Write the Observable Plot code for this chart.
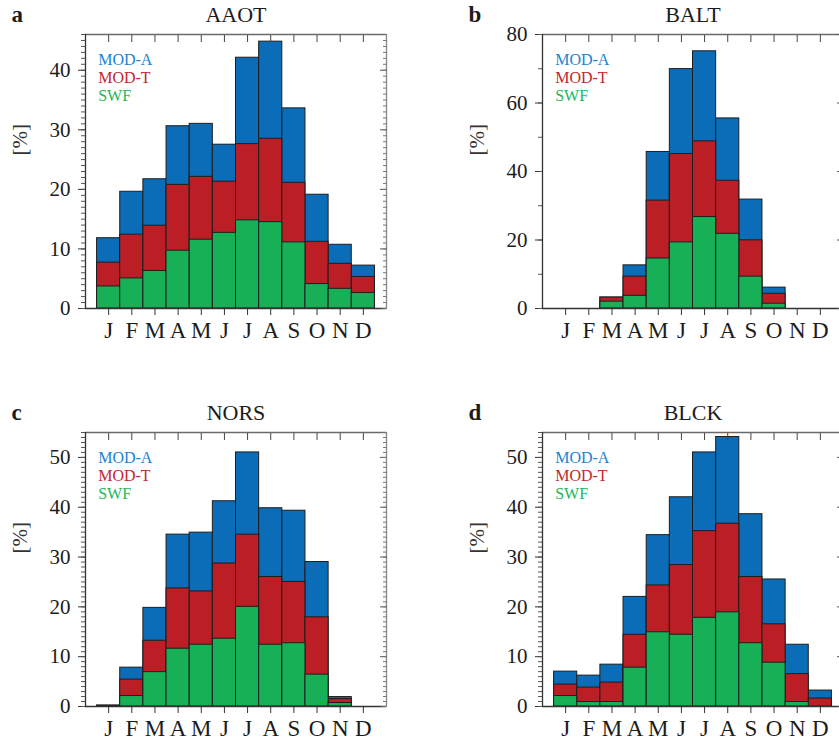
<!DOCTYPE html>
<html>
<head>
<meta charset="utf-8">
<script src="https://cdn.jsdelivr.net/npm/d3@7"></script>
<script src="https://cdn.jsdelivr.net/npm/@observablehq/plot@0.6"></script>
<style>
  html, body { margin: 0; padding: 0; background: #fff; }
  #wrap { position: relative; width: 839px; height: 744px; overflow: hidden; background: #fff; }
  .panel { position: absolute; }
  .panel g[aria-label="x-axis tick label"] { font-size: 23px !important; }
  .panel g[aria-label="y-axis tick label"] { font-size: 21px !important; }
</style>
</head>
<body>
<div id="wrap"></div>
<script>
// ---- data ----
const months = ["J","F","M","A","M","J","J","A","S","O","N","D"];
const series = ["MOD-A","MOD-T","SWF"];

const aaotModA = [11.8, 19.6, 21.7, 30.6, 31.0, 27.5, 42.1, 44.8, 33.6, 19.1, 10.7, 7.2];
const aaotModT = [7.7, 12.4, 13.9, 20.75, 22.1, 21.3, 27.6, 28.5, 21.1, 11.2, 7.5, 5.3];
const aaotSwf  = [3.7, 5.05, 6.3, 9.7, 11.55, 12.7, 14.8, 14.5, 11.1, 4.1, 3.3, 2.6];

const baltModA = [0, 0, 3.2, 12.6, 45.7, 69.9, 75.1, 55.5, 31.8, 6.1, 0, 0];
const baltModT = [0, 0, 3.2, 9.3, 31.5, 45.1, 48.8, 37.3, 19.9, 4.3, 0, 0];
const baltSwf  = [0, 0, 2.0, 3.7, 14.6, 19.3, 26.7, 21.8, 9.3, 1.4, 0, 0];

const norsModA = [0.2, 7.8, 19.8, 34.5, 34.9, 41.2, 51.0, 39.8, 39.3, 29.0, 1.9, 0];
const norsModT = [0.15, 5.4, 13.2, 23.7, 23.1, 28.7, 34.5, 26.0, 25.0, 17.9, 1.5, 0];
const norsSwf  = [0.1, 2.1, 6.9, 11.6, 12.4, 13.6, 20.0, 12.4, 12.7, 6.4, 0.7, 0];

const blckModA = [7.0, 6.2, 8.4, 22.0, 34.4, 42.0, 51.0, 54.1, 38.6, 25.5, 12.4, 3.2];
const blckModT = [4.4, 3.8, 4.8, 14.4, 24.3, 28.4, 35.2, 36.7, 26.0, 16.5, 6.5, 1.6];
const blckSwf  = [2.1, 0.9, 0.9, 7.8, 14.9, 14.4, 17.8, 18.9, 12.7, 8.8, 0.9, 0];

const panels = [
  {letter: "a", name: "AAOT", ymax: 46, major: [0,10,20,30,40], minorStep: 1, data: [aaotModA, aaotModT, aaotSwf]},
  {letter: "b", name: "BALT", ymax: 80, major: [0,20,40,60,80], minorStep: 10, data: [baltModA, baltModT, baltSwf]},
  {letter: "c", name: "NORS", ymax: 55, major: [0,10,20,30,40,50], minorStep: 1, data: [norsModA, norsModT, norsSwf]},
  {letter: "d", name: "BLCK", ymax: 55, major: [0,10,20,30,40,50], minorStep: 1, data: [blckModA, blckModT, blckSwf]}
];

const barColors = ["#0b6db7", "#bb1e24", "#17b057"];
const textColors = ["#1a84d0", "#c3262d", "#22b65a"];

// ---- layout ----
const W = 400, H = 340, mL = 85, mR = 14, mT = 34, mB = 32;
const positions = [[0, 0], [457.4, 0], [0, 398.3], [457.2, 398.3]];
const font = "'Liberation Serif', 'Times New Roman', serif";
const ink = "#1c1c1c";

function makePanel(p) {
  const minor = d3.range(0, p.ymax + 1e-9, p.minorStep);
  const bars = [];
  p.data.forEach((vals, s) => {
    vals.forEach((v, i) => { if (v > 0) bars.push({s, m: i + 1, v}); });
  });
  const marks = [];
  for (let s = 0; s < 3; s++) {
    marks.push(Plot.rect(bars.filter(d => d.s === s), {
      x1: d => d.m - 0.5, x2: d => d.m + 0.5, y1: d => 0, y2: d => d.v,
      fill: barColors[s], stroke: "#1e1e1e", strokeWidth: 1
    }));
  }
  // frame
  marks.push(Plot.ruleY([p.ymax], {stroke: "#6a6a6a", strokeWidth: 1.3}));
  marks.push(Plot.ruleX([13], {stroke: "#8a8a8a", strokeWidth: 1.3}));
  marks.push(Plot.ruleX([0], {stroke: "#333", strokeWidth: 1.3}));
  marks.push(Plot.ruleY([0], {stroke: "#333", strokeWidth: 1.3}));
  // axes
  marks.push(Plot.axisY({ticks: p.major, tickSize: 7, tickPadding: 8, fontSize: 21, label: null, stroke: "#333", fill: ink}));
  marks.push(Plot.axisY({ticks: minor, tickSize: 4, tickFormat: () => "", label: null, stroke: "#555"}));
  marks.push(Plot.axisY({anchor: "right", ticks: p.major, tickSize: 7, dx: -7, tickFormat: () => "", label: null, stroke: "#555"}));
  marks.push(Plot.axisY({anchor: "right", ticks: minor, tickSize: 4, dx: -4, tickFormat: () => "", label: null, stroke: "#777"}));
  marks.push(Plot.axisX({ticks: d3.range(1, 13), tickFormat: i => months[i - 1], tickSize: 7, tickPadding: 6, fontSize: 23, label: null, stroke: "#333", fill: ink}));
  marks.push(Plot.axisX({anchor: "top", ticks: d3.range(1, 13), tickSize: 7, dy: 7, tickFormat: () => "", label: null, stroke: "#444"}));
  // y label
  marks.push(Plot.text(["[%]"], {text: d => d, frameAnchor: "left", rotate: -90, dx: -65, dy: -16, fontSize: 21, fill: "#333"}));
  // legend
  series.forEach((name, s) => {
    marks.push(Plot.text([name], {text: d => d, frameAnchor: "top-left", textAnchor: "start", lineAnchor: "bottom", dx: 12.7, dy: 30.3 + 18 * s, fontSize: 16, fill: textColors[s]}));
  });
  // title + panel letter
  marks.push(Plot.text([p.name], {text: d => d, frameAnchor: "top", lineAnchor: "bottom", dy: -12.3, fontSize: 22, fill: ink}));
  marks.push(Plot.text([p.letter], {text: d => d, frameAnchor: "top-left", textAnchor: "start", lineAnchor: "bottom", dx: -74, dy: -12.3, fontSize: 23, fontWeight: "bold", fill: ink}));

  return Plot.plot({
    width: W, height: H,
    marginLeft: mL, marginRight: mR, marginTop: mT, marginBottom: mB,
    x: {type: "linear", domain: [0, 13], axis: null},
    y: {domain: [0, p.ymax], axis: null},
    style: {fontFamily: font, fontSize: "20px", background: "transparent", overflow: "visible", color: ink},
    marks
  });
}

const wrap = document.getElementById("wrap");
panels.forEach((p, k) => {
  const svg = makePanel(p);
  svg.classList.add("panel");
  svg.style.left = positions[k][0] + "px";
  svg.style.top = positions[k][1] + "px";
  wrap.appendChild(svg);
});
</script>
</body>
</html>
